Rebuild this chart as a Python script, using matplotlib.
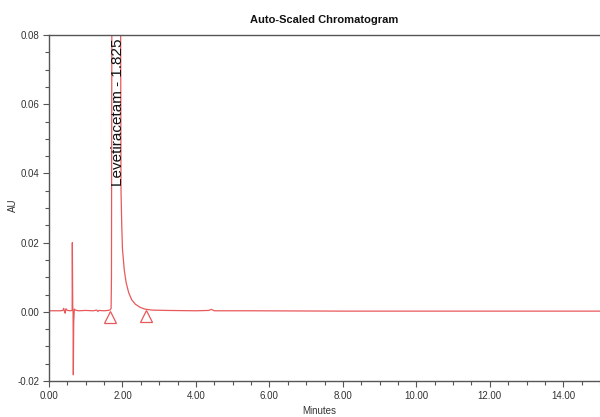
import matplotlib
matplotlib.use("Agg")
import matplotlib.pyplot as plt
from matplotlib.ticker import MultipleLocator, FormatStrFormatter

plt.rcParams['font.family'] = ['Liberation Sans Narrow', 'Liberation Sans', 'DejaVu Sans']

# Chromatogram trace (minutes, AU)
time_min = [0.00, 0.30, 0.38, 0.40, 0.42, 0.44, 0.46, 0.50, 0.58, 0.62, 0.630, 0.635, 0.645,
            0.655, 0.662, 0.672, 0.69, 0.72, 0.80, 1.00, 1.20, 1.30, 1.33, 1.36, 1.50, 1.60,
            1.66, 1.69, 1.70, 1.71, 1.72, 1.825, 1.94, 1.95, 1.96, 1.98, 2.00, 2.05, 2.10,
            2.17, 2.25, 2.35, 2.48, 2.60, 2.80, 3.20, 4.00, 4.35, 4.42, 4.50, 5.50, 8.00,
            11.00, 15.00]
absorb_au = [0.0003, 0.0003, 0.0004, 0.0010, 0.0002, -0.0004, 0.0009, 0.0004, 0.0003, 0.0004,
             0.0005, 0.0200, 0.0020, -0.0005, -0.0182, -0.0030, 0.0008, 0.0005, 0.0003,
             0.0004, 0.0003, 0.0005, 0.0001, 0.0004, 0.0003, 0.0004, 0.0005, 0.0010,
             0.0100, 0.0800, 0.1100, 0.1500, 0.1000, 0.0800, 0.0350, 0.0250, 0.0180,
             0.0120, 0.0084, 0.0055, 0.0035, 0.0022, 0.0013, 0.0008, 0.0005, 0.0004,
             0.0003, 0.0004, 0.0007, 0.0003, 0.0003, 0.0002, 0.0002, 0.0002]

# Integration markers (peak start / end)
marker_time = [1.65, 2.64]
marker_au = [-0.0016, -0.0011]

peak_label = "Levetiracetam - 1.825"
peak_rt = 1.825

x_ticks = [0, 2, 4, 6, 8, 10, 12, 14]
y_ticks = [-0.02, 0.00, 0.02, 0.04, 0.06, 0.08]

red = '#e9585a'
axis_col = '#555555'

fig = plt.figure(figsize=(6.0, 4.17), dpi=100)
ax = fig.add_axes([0.0817, 0.0863, 0.9183, 0.8297])

ax.plot(time_min, absorb_au, color=red, lw=0.9)
ax.plot(marker_time, marker_au, linestyle='none', marker='^', markersize=8,
        markerfacecolor='none', markeredgecolor=red, markeredgewidth=0.9)

ax.text(peak_rt + 0.05, 0.0790, peak_label, rotation=90, ha='center', va='top',
        fontsize=11, color='#111111', family=['Liberation Sans', 'DejaVu Sans'])

ax.set_xlim(0, 15)
ax.set_ylim(-0.02, 0.08)
ax.set_xticks(x_ticks)
ax.set_yticks(y_ticks)
ax.xaxis.set_major_formatter(FormatStrFormatter('%.2f'))
ax.yaxis.set_major_formatter(FormatStrFormatter('%.2f'))
ax.xaxis.set_minor_locator(MultipleLocator(0.5))
ax.yaxis.set_minor_locator(MultipleLocator(0.005))

ax.tick_params(which='major', length=4, width=0.8, colors=axis_col, labelsize=7,
               labelcolor='#333333', pad=3)
ax.tick_params(which='minor', length=3, width=0.8, colors=axis_col)

for s in ['left', 'bottom', 'top']:
    ax.spines[s].set_color(axis_col)
    ax.spines[s].set_linewidth(1.0)
ax.spines['right'].set_visible(False)

ax.set_title("Auto-Scaled Chromatogram", fontsize=8, fontweight='bold',
             color='#111111', pad=9, family=['Liberation Sans', 'DejaVu Sans'])
fig.text(0.022, 0.508, "AU", rotation=90, fontsize=7, color='#333333',
         ha='center', va='center')
fig.text(0.532, 0.002, "Minutes", fontsize=7, color='#333333',
         ha='center', va='bottom')

fig.savefig("out.png", dpi=100)
